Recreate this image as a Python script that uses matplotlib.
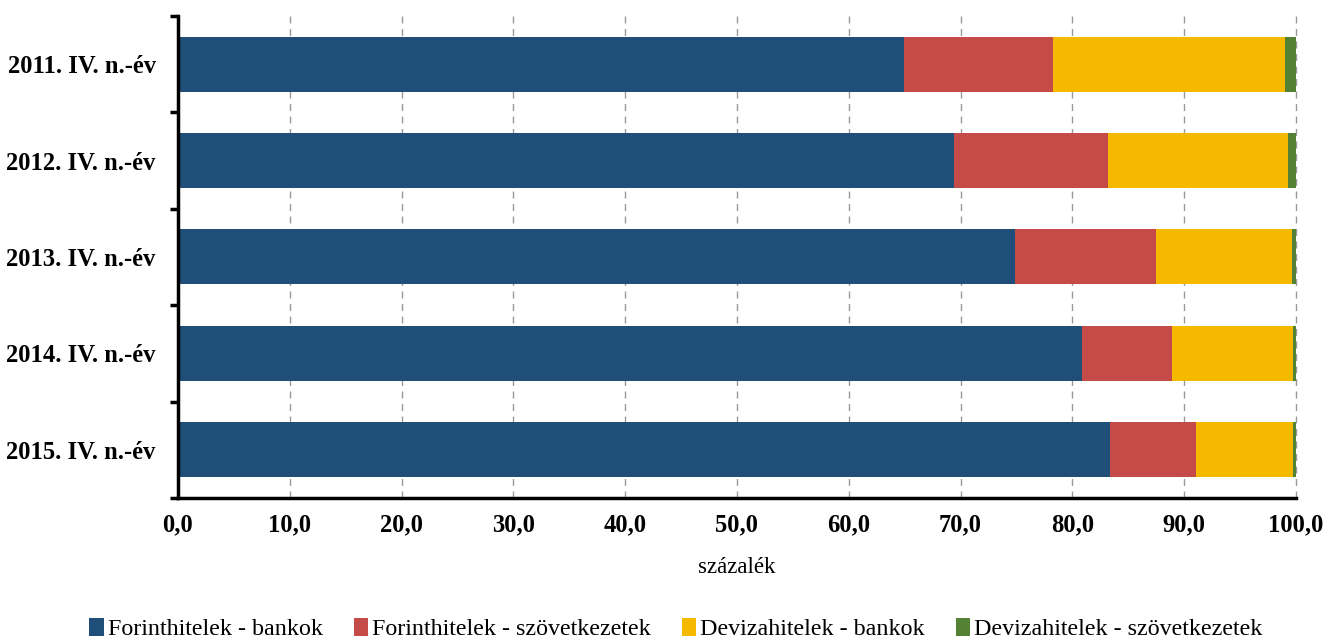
import numpy as np
import matplotlib.pyplot as plt
from matplotlib.ticker import FixedLocator

categories = ['2011. IV. n.-év', '2012. IV. n.-év', '2013. IV. n.-év',
              '2014. IV. n.-év', '2015. IV. n.-év']
forint_bank = [64.9, 69.4, 74.9, 80.9, 83.4]
forint_szov = [13.4, 13.8, 12.6, 8.0, 7.7]
deviza_bank = [20.7, 16.1, 12.1, 10.8, 8.6]
deviza_szov = [1.0, 0.7, 0.4, 0.3, 0.3]
series_names = ['Forinthitelek - bankok', 'Forinthitelek - szövetkezetek',
                'Devizahitelek - bankok', 'Devizahitelek - szövetkezetek']
colors = ['#1F4E79', '#C44B47', '#F5BA00', '#548235']

plt.rcParams['font.family'] = ['Liberation Serif', 'DejaVu Serif']

fig = plt.figure(figsize=(13.25, 6.39), dpi=100)
ax = fig.add_axes([0.1343, 0.2207, 0.8438, 0.7543])

y = np.arange(len(categories))
left = np.zeros(len(categories))
for vals, name, c in zip([forint_bank, forint_szov, deviza_bank, deviza_szov],
                         series_names, colors):
    ax.barh(y, vals, left=left, height=0.57, color=c, label=name)
    left += np.array(vals)

ax.set_xlim(0, 100)
ax.set_ylim(len(categories) - 0.5, -0.5)
ax.set_xticks(np.arange(0, 101, 10))
ax.xaxis.set_major_formatter(plt.FuncFormatter(lambda v, p: ('%.1f' % v).replace('.', ',')))
ax.set_yticks(y)
ax.set_yticklabels(categories)
ax.yaxis.set_minor_locator(FixedLocator(np.arange(-0.5, len(categories), 1)))
ax.tick_params(axis='y', which='major', length=0, pad=16)
ax.tick_params(axis='y', which='minor', length=6, width=2.5, direction='out')
ax.tick_params(axis='x', length=0, pad=11)
for lbl in ax.get_yticklabels() + ax.get_xticklabels():
    lbl.set_fontweight('bold')
    lbl.set_fontsize(17.7)

ax.grid(axis='x', linestyle=(0, (5, 4)), color='#999999', linewidth=1)
ax.set_axisbelow(True)
for gl in ax.get_xgridlines():
    gl.set_clip_on(False)
for s in ['top', 'right']:
    ax.spines[s].set_visible(False)
for s in ['left', 'bottom']:
    ax.spines[s].set_linewidth(2.5)
    ax.spines[s].set_color('black')

ax.set_xlabel('százalék', fontsize=16.5, labelpad=15)

handles, labels = ax.get_legend_handles_labels()
fig.legend(handles, labels, loc='lower center', bbox_to_anchor=(0.51, -0.036), ncol=4,
           frameon=False, fontsize=17.3, handlelength=0.6, handleheight=0.8,
           handletextpad=0.15, columnspacing=1.3)

fig.savefig('out.png', dpi=100)
